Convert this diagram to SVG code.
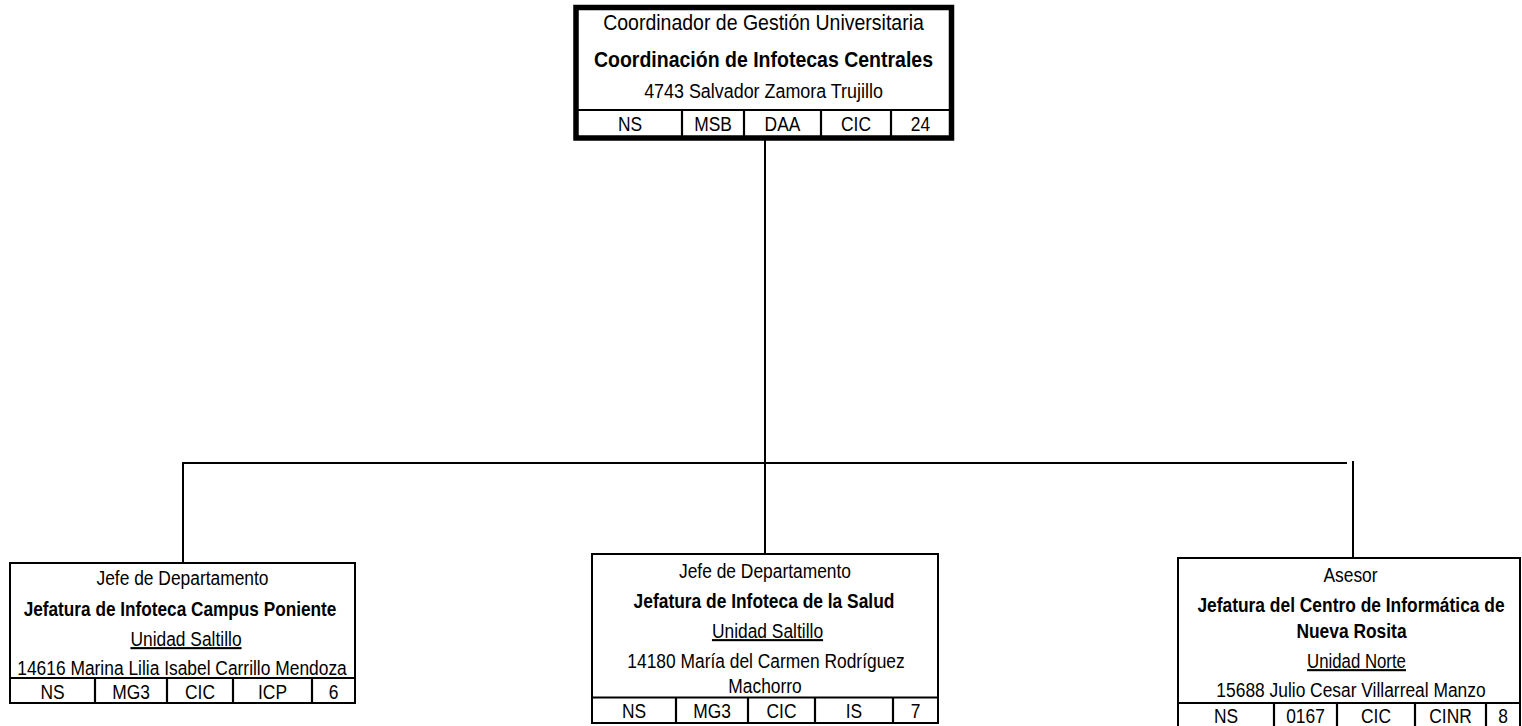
<svg xmlns="http://www.w3.org/2000/svg" width="1522" height="726" viewBox="0 0 1522 726">
<style>
  .bg{fill:#ffffff}
  .box{fill:#ffffff;stroke:#000;stroke-width:2}
  .thick{fill:#ffffff;stroke:#000;stroke-width:5.5}
  .sep{stroke:#000;stroke-width:2.2;fill:none}
  .conn{stroke:#000;stroke-width:2;fill:none}
  text{font-family:"Liberation Sans",Arial,sans-serif;fill:#000;text-anchor:middle}
  .t{font-size:21px}
  .tt{font-size:22.5px}
  .b{font-weight:bold}
  .u{text-decoration:underline}
</style>
<rect class="bg" x="0" y="0" width="1522" height="726"/>

<g id="connectors">
  <line class="conn" x1="765" y1="140" x2="765" y2="554"/>
  <polyline class="conn" points="183,563 183,463 1347,463"/>
  <line class="conn" x1="1353" y1="461" x2="1353" y2="558"/>
</g>

<g id="node-coordinacion">
  <rect class="thick" x="576" y="7.5" width="375.5" height="130.5"/>
  <line class="sep" x1="578" y1="110" x2="950" y2="110"/>
  <line class="sep" x1="682" y1="110" x2="682" y2="136"/>
  <line class="sep" x1="744" y1="110" x2="744" y2="136"/>
  <line class="sep" x1="821" y1="110" x2="821" y2="136"/>
  <line class="sep" x1="891" y1="110" x2="891" y2="136"/>
  <text class="tt" transform="translate(763.5,30) scale(0.8667,1)">Coordinador de Gestión Universitaria</text>
  <text class="tt b" transform="translate(763.5,67) scale(0.8667,1)">Coordinación de Infotecas Centrales</text>
  <text class="t" transform="translate(763.5,98) scale(0.853,1)">4743 Salvador Zamora Trujillo</text>
  <text class="t" transform="translate(630,131) scale(0.8286,1)">NS</text>
  <text class="t" transform="translate(713,131) scale(0.8286,1)">MSB</text>
  <text class="t" transform="translate(782.5,131) scale(0.8286,1)">DAA</text>
  <text class="t" transform="translate(856,131) scale(0.8286,1)">CIC</text>
  <text class="t" transform="translate(920.5,131) scale(0.8286,1)">24</text>
</g>

<g id="node-campus-poniente">
  <rect class="box" x="10" y="563" width="345" height="140"/>
  <line class="sep" x1="10" y1="678" x2="355" y2="678"/>
  <line class="sep" x1="95" y1="678" x2="95" y2="703"/>
  <line class="sep" x1="167" y1="678" x2="167" y2="703"/>
  <line class="sep" x1="233" y1="678" x2="233" y2="703"/>
  <line class="sep" x1="312" y1="678" x2="312" y2="703"/>
  <text class="t" transform="translate(182.5,585) scale(0.8286,1)">Jefe de Departamento</text>
  <text class="t b" transform="translate(180,616) scale(0.82,1)">Jefatura de Infoteca Campus Poniente</text>
  <text class="t u" transform="translate(186,646) scale(0.8286,1)">Unidad Saltillo</text>
  <text class="t" transform="translate(182,675) scale(0.8286,1)">14616 Marina Lilia Isabel Carrillo Mendoza</text>
  <text class="t" transform="translate(52.5,699) scale(0.8286,1)">NS</text>
  <text class="t" transform="translate(131,699) scale(0.8286,1)">MG3</text>
  <text class="t" transform="translate(200,699) scale(0.8286,1)">CIC</text>
  <text class="t" transform="translate(272.5,699) scale(0.8286,1)">ICP</text>
  <text class="t" transform="translate(333.5,699) scale(0.8286,1)">6</text>
</g>

<g id="node-salud">
  <rect class="box" x="592" y="554" width="346" height="169"/>
  <line class="sep" x1="592" y1="697.5" x2="938" y2="697.5"/>
  <line class="sep" x1="676" y1="697.5" x2="676" y2="723"/>
  <line class="sep" x1="748" y1="697.5" x2="748" y2="723"/>
  <line class="sep" x1="815" y1="697.5" x2="815" y2="723"/>
  <line class="sep" x1="893" y1="697.5" x2="893" y2="723"/>
  <text class="t" transform="translate(765,578) scale(0.8286,1)">Jefe de Departamento</text>
  <text class="t b" transform="translate(764,608) scale(0.8286,1)">Jefatura de Infoteca de la Salud</text>
  <text class="t u" transform="translate(767.5,638) scale(0.8286,1)">Unidad Saltillo</text>
  <text class="t" transform="translate(766,668) scale(0.8286,1)">14180 María del Carmen Rodríguez</text>
  <text class="t" transform="translate(765,693) scale(0.8286,1)">Machorro</text>
  <text class="t" transform="translate(634,718) scale(0.8286,1)">NS</text>
  <text class="t" transform="translate(712,718) scale(0.8286,1)">MG3</text>
  <text class="t" transform="translate(781.5,718) scale(0.8286,1)">CIC</text>
  <text class="t" transform="translate(854,718) scale(0.8286,1)">IS</text>
  <text class="t" transform="translate(915.5,718) scale(0.8286,1)">7</text>
</g>

<g id="node-nueva-rosita">
  <rect class="box" x="1178" y="558" width="342" height="171"/>
  <line class="sep" x1="1178" y1="703" x2="1520" y2="703"/>
  <line class="sep" x1="1274" y1="703" x2="1274" y2="729"/>
  <line class="sep" x1="1337" y1="703" x2="1337" y2="729"/>
  <line class="sep" x1="1415" y1="703" x2="1415" y2="729"/>
  <line class="sep" x1="1486" y1="703" x2="1486" y2="729"/>
  <text class="t" transform="translate(1350.5,582) scale(0.8286,1)">Asesor</text>
  <text class="t b" transform="translate(1351,612) scale(0.8286,1)">Jefatura del Centro de Informática de</text>
  <text class="t b" transform="translate(1351.5,638) scale(0.8286,1)">Nueva Rosita</text>
  <text class="t u" transform="translate(1356.5,668) scale(0.8,1)">Unidad Norte</text>
  <text class="t" transform="translate(1351,697) scale(0.8286,1)">15688 Julio Cesar Villarreal Manzo</text>
  <text class="t" transform="translate(1226,723) scale(0.8286,1)">NS</text>
  <text class="t" transform="translate(1305.5,723) scale(0.8286,1)">0167</text>
  <text class="t" transform="translate(1376,723) scale(0.8286,1)">CIC</text>
  <text class="t" transform="translate(1450.5,723) scale(0.8286,1)">CINR</text>
  <text class="t" transform="translate(1503,723) scale(0.8286,1)">8</text>
</g>
</svg>
